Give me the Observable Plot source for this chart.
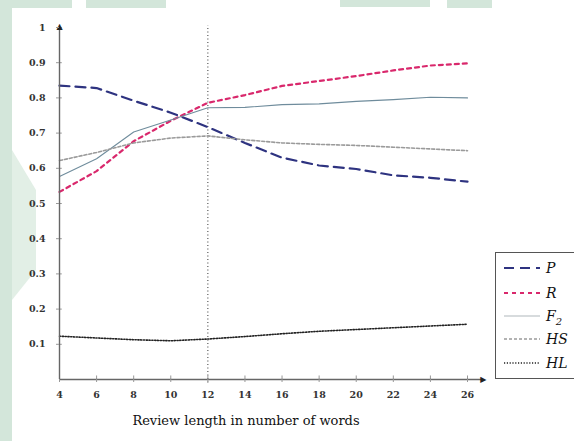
<!DOCTYPE html>
<html>
<head>
<meta charset="utf-8">
<script src="https://cdn.jsdelivr.net/npm/d3@7"></script>
<script src="https://cdn.jsdelivr.net/npm/@observablehq/plot@0.6"></script>
<style>
  html, body { margin: 0; padding: 0; background: #fff; }
  #wrap { position: relative; width: 574px; height: 441px; overflow: hidden; background: #fff; }
  #bg { position: absolute; left: 0; top: 0; }
  #chart { position: absolute; left: 0; top: 0; }
  #legend { position: absolute; left: 495px; top: 252px; width: 90px; height: 127px;
    border: 1px solid #555; background: #fff; box-sizing: border-box;
    font-family: "DejaVu Serif", "Liberation Serif", serif; font-style: italic; font-size: 14px; color: #111; }
  .row { position: absolute; left: 0; height: 20px; width: 90px; }
  .row svg { position: absolute; left: 6px; top: 4px; }
  .row span { position: absolute; left: 50px; top: 0px; line-height: 20px; }
  #xlabel { position: absolute; left: 0; width: 492px; top: 413px; text-align: center;
    font-family: "DejaVu Serif", "Liberation Serif", serif; font-size: 13px; color: #111; }
</style>
</head>
<body>
<div id="wrap">
  <svg id="bg" width="574" height="441">
    <rect x="0" y="0" width="12" height="441" fill="#d3e6da"/>
    <rect x="12" y="0" width="60" height="8" fill="#d3e6da"/>
    <rect x="86" y="0" width="80" height="8" fill="#d3e6da"/>
    <rect x="340" y="0" width="90" height="7" fill="#d3e6da"/>
    <rect x="447" y="0" width="45" height="8" fill="#d3e6da"/>
    <polygon points="12,150 36,190 36,270 12,300" fill="#e2efe6"/>
  </svg>
  <div id="chart"></div>
  <div id="xlabel">Review length in number of words</div>
  <div id="legend"></div>
</div>
<script>
const lengths = [4, 6, 8, 10, 12, 14, 16, 18, 20, 22, 24, 26];
const P  = [0.835, 0.828, 0.792, 0.758, 0.717, 0.672, 0.630, 0.608, 0.598, 0.580, 0.573, 0.562];
const R  = [0.533, 0.592, 0.677, 0.735, 0.786, 0.808, 0.834, 0.848, 0.862, 0.878, 0.892, 0.898];
const F2 = [0.577, 0.627, 0.703, 0.737, 0.772, 0.773, 0.781, 0.783, 0.790, 0.795, 0.802, 0.800];
const HS = [0.622, 0.645, 0.672, 0.686, 0.692, 0.681, 0.672, 0.668, 0.665, 0.660, 0.655, 0.650];
const HL = [0.123, 0.118, 0.113, 0.110, 0.115, 0.122, 0.130, 0.137, 0.142, 0.147, 0.152, 0.157];
const seriesNames = ["P", "R", "F2", "HS", "HL"];
const seriesValues = [P, R, F2, HS, HL];
const xTicks = [4, 6, 8, 10, 12, 14, 16, 18, 20, 22, 24, 26];
const yTicks = [0.1, 0.2, 0.3, 0.4, 0.5, 0.6, 0.7, 0.8, 0.9, 1];
const markerX = 12;

const styles = {
  P:  {stroke: "#2e3380", strokeWidth: 2.2, strokeDasharray: "10,6"},
  R:  {stroke: "#d9286c", strokeWidth: 2.2, strokeDasharray: "4,4"},
  F2: {stroke: "#6f8c9c", strokeWidth: 1.1, strokeDasharray: null},
  HS: {stroke: "#9a9a9a", strokeWidth: 1.6, strokeDasharray: "3,2"},
  HL: {stroke: "#222222", strokeWidth: 1.6, strokeDasharray: "1.2,1.6"}
};

const data = seriesNames.map((name, i) =>
  lengths.map((x, j) => ({series: name, x, y: seriesValues[i][j]})));

const font = "DejaVu Serif, Liberation Serif, serif";

const plot = Plot.plot({
  width: 574,
  height: 441,
  marginLeft: 59,
  marginRight: 107,
  marginTop: 27,
  marginBottom: 62,
  style: {background: "transparent", fontFamily: font, fontSize: "9.5px", color: "#222"},
  x: {type: "linear", domain: [4, 26]},
  y: {type: "linear", domain: [0, 1]},
  marks: [
    Plot.ruleX([markerX], {y1: -0.01, y2: 1.005, stroke: "#333", strokeWidth: 1, strokeDasharray: "1,2.5"}),
    ...data.map((d, i) => Plot.lineY(d, {x: "x", y: "y", curve: "linear", ...styles[seriesNames[i]]})),
    Plot.ruleX(xTicks, {y1: 0, y2: 0.01, stroke: "#999"}),
    Plot.ruleY(yTicks, {x1: 4, x2: 4.15, stroke: "#999"}),
    Plot.ruleX([4], {y1: 0, y2: 1.0, stroke: "#666", strokeWidth: 1.4}),
    Plot.ruleY([0], {x1: 4, x2: 26.8, stroke: "#666", strokeWidth: 1.4}),
    Plot.text([{x: 4, y: 1.0}], {x: "x", y: "y", text: () => "▲", fontSize: 8, fill: "#222", fontFamily: "DejaVu Sans", dy: -1}),
    Plot.text([{x: 26.85, y: 0}], {x: "x", y: "y", text: () => "▶", fontSize: 8, fill: "#222", fontFamily: "DejaVu Sans"}),
    Plot.axisX({ticks: xTicks, tickSize: 3, tickPadding: 9, label: null, stroke: "#999", fontWeight: "bold", fill: "#333"}),
    Plot.axisY({ticks: yTicks, tickSize: 3, tickPadding: 11, label: null, stroke: "#999", fontWeight: "bold", fill: "#333", tickFormat: d => String(d)})
  ]
});
document.getElementById("chart").appendChild(plot);

// legend
const leg = document.getElementById("legend");
const labels = {P: "P", R: "R", F2: "F<sub style='font-size:10px'>2</sub>", HS: "HS", HL: "HL"};
const rowTops = [5, 30, 53, 76, 100];
seriesNames.forEach((name, i) => {
  const row = document.createElement("div");
  row.className = "row";
  row.style.top = rowTops[i] + "px";
  const s = styles[name];
  const svg = d3.create("svg").attr("width", 40).attr("height", 12);
  svg.append("line").attr("x1", 2).attr("x2", 38).attr("y1", 6).attr("y2", 6)
    .attr("stroke", name === "F2" ? "#b0b8bc" : s.stroke)
    .attr("stroke-width", s.strokeWidth)
    .attr("stroke-dasharray", s.strokeDasharray);
  row.appendChild(svg.node());
  const sp = document.createElement("span");
  sp.innerHTML = labels[name];
  row.appendChild(sp);
  leg.appendChild(row);
});
</script>
</body>
</html>
